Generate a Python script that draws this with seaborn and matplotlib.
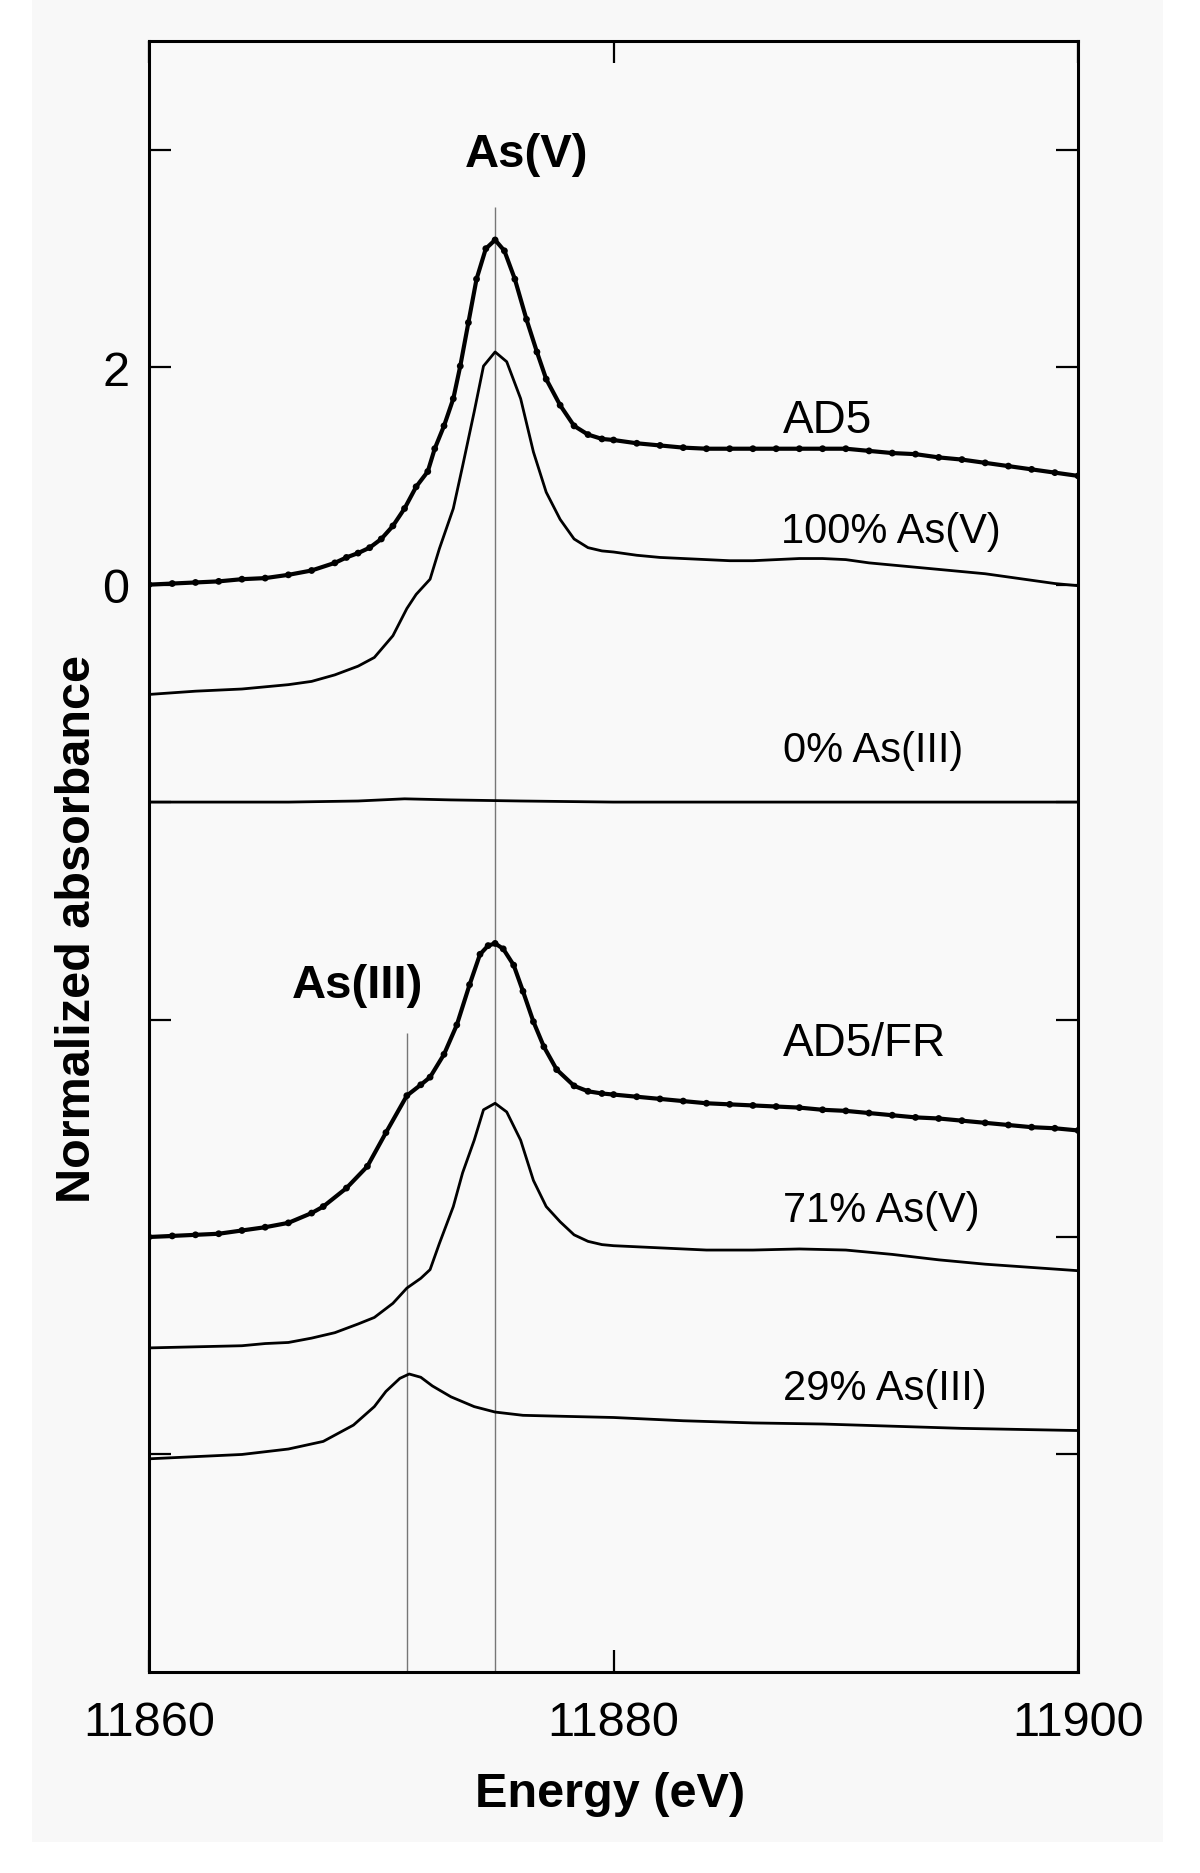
import numpy as np
import pandas as pd
import matplotlib
matplotlib.use("Agg")
import matplotlib.pyplot as plt
import seaborn as sns
from matplotlib.patches import Rectangle

# Energies (eV) and normalized absorbance (curves are vertically offset)
ad5_energy = [11860, 11861, 11862, 11863, 11864, 11865, 11866, 11867, 11868, 11868.5,
              11869, 11869.5, 11870, 11870.5, 11871, 11871.5, 11872, 11872.3, 11872.7, 11873.1,
              11873.4, 11873.75, 11874.1, 11874.5, 11874.9, 11875.3, 11875.75, 11876.25, 11876.7, 11877.1,
              11877.7, 11878.3, 11878.9, 11879.5, 11880, 11881, 11882, 11883, 11884, 11885,
              11886, 11887, 11888, 11889, 11890, 11891, 11892, 11893, 11894, 11895,
              11896, 11897, 11898, 11899, 11900]
ad5_abs = [0.00, 0.01, 0.02, 0.03, 0.05, 0.06, 0.09, 0.13, 0.20, 0.25,
           0.29, 0.34, 0.42, 0.54, 0.70, 0.90, 1.04, 1.25, 1.46, 1.71,
           2.01, 2.41, 2.81, 3.09, 3.17, 3.07, 2.81, 2.44, 2.14, 1.89,
           1.65, 1.46, 1.38, 1.34, 1.33, 1.30, 1.28, 1.26, 1.25, 1.25,
           1.25, 1.25, 1.25, 1.25, 1.25, 1.23, 1.21, 1.20, 1.17, 1.15,
           1.12, 1.09, 1.06, 1.03, 1.00]

asv100_energy = [11860, 11862, 11864, 11865, 11866, 11867, 11868, 11869, 11869.7, 11870.5,
                 11871.1, 11871.5, 11872.1, 11872.5, 11873.1, 11873.5, 11874.0, 11874.4, 11874.9, 11875.4,
                 11876.0, 11876.55, 11877.1, 11877.7, 11878.3, 11878.9, 11879.5, 11880, 11881, 11882,
                 11883, 11884, 11885, 11886, 11887, 11888, 11889, 11890, 11891, 11892,
                 11893, 11894, 11895, 11896, 11897, 11898, 11899, 11900]
asv100_abs = [-1.01, -0.98, -0.96, -0.94, -0.92, -0.89, -0.83, -0.75, -0.67, -0.47,
              -0.22, -0.09, 0.05, 0.33, 0.70, 1.09, 1.59, 2.01, 2.14, 2.05,
              1.71, 1.22, 0.85, 0.60, 0.42, 0.34, 0.31, 0.30, 0.27, 0.25,
              0.24, 0.23, 0.22, 0.22, 0.23, 0.24, 0.24, 0.23, 0.20, 0.18,
              0.16, 0.14, 0.12, 0.10, 0.07, 0.04, 0.01, -0.01]

asiii0_energy = [11860, 11866, 11869, 11871, 11873, 11876, 11880, 11890, 11900]
asiii0_abs = [-2.00, -2.00, -1.99, -1.97, -1.98, -1.99, -2.00, -2.00, -2.00]

fr_energy = [11860, 11861, 11862, 11863, 11864, 11865, 11866, 11867, 11867.5, 11868.5,
             11869.4, 11870.2, 11871.1, 11871.7, 11872.1, 11872.7, 11873.25, 11873.8, 11874.25, 11874.6,
             11874.9, 11875.25, 11875.7, 11876.1, 11876.55, 11877.0, 11877.55, 11878.3, 11878.9, 11879.5,
             11880, 11881, 11882, 11883, 11884, 11885, 11886, 11887, 11888, 11889,
             11890, 11891, 11892, 11893, 11894, 11895, 11896, 11897, 11898, 11899, 11900]
fr_abs = [-6.00, -5.99, -5.98, -5.97, -5.94, -5.91, -5.87, -5.78, -5.72, -5.55,
          -5.35, -5.04, -4.70, -4.60, -4.53, -4.32, -4.05, -3.68, -3.40, -3.32,
          -3.30, -3.35, -3.50, -3.74, -4.02, -4.25, -4.46, -4.61, -4.66, -4.68,
          -4.69, -4.71, -4.73, -4.75, -4.77, -4.78, -4.79, -4.80, -4.81, -4.83,
          -4.84, -4.86, -4.88, -4.90, -4.91, -4.93, -4.95, -4.97, -4.99, -5.00, -5.02]

asv71_energy = [11860, 11862, 11864, 11865, 11866, 11867, 11868, 11869, 11869.7, 11870.5,
                11871.1, 11871.7, 11872.1, 11872.5, 11873.1, 11873.5, 11874.0, 11874.4, 11874.9, 11875.4,
                11876.0, 11876.55, 11877.1, 11877.7, 11878.3, 11878.9, 11879.5, 11880, 11882, 11884,
                11886, 11888, 11890, 11892, 11894, 11896, 11898, 11900]
asv71_abs = [-7.02, -7.01, -7.00, -6.98, -6.97, -6.93, -6.88, -6.80, -6.74, -6.61,
             -6.47, -6.38, -6.30, -6.06, -5.72, -5.41, -5.11, -4.83, -4.77, -4.85,
             -5.11, -5.48, -5.72, -5.86, -5.98, -6.04, -6.07, -6.08, -6.10, -6.12,
             -6.12, -6.11, -6.12, -6.16, -6.21, -6.25, -6.28, -6.31]

asiii29_energy = [11860, 11862, 11864, 11866, 11867.5, 11868.8, 11869.7, 11870.2, 11870.8, 11871.2,
                  11871.7, 11872.2, 11873.0, 11874.0, 11874.9, 11876.1, 11878, 11880, 11883, 11886,
                  11889, 11892, 11895, 11900]
asiii29_abs = [-8.04, -8.02, -8.00, -7.95, -7.88, -7.73, -7.56, -7.42, -7.30, -7.26,
               -7.29, -7.37, -7.47, -7.56, -7.61, -7.64, -7.65, -7.66, -7.69, -7.71,
               -7.72, -7.74, -7.76, -7.78]

# edge positions marked by vertical lines: As(V), As(III)
edge_energy = [11874.9, 11871.1]
edge_top = [3.47, -4.12]

x_ticks = [11860, 11880, 11900]
y_ticks = [-8, -6, -4, -2, 0, 2, 4]
y_tick_labels = ["", "", "", "", "0", "2", ""]

sns.set_theme(style="ticks")
plt.rcParams["font.family"] = ["Liberation Sans", "DejaVu Sans"]
plt.rcParams.update({"text.color": "black", "axes.labelcolor": "black",
                     "xtick.color": "black", "ytick.color": "black"})

fig = plt.figure(figsize=(12, 18.74), dpi=100, facecolor="white")
fig.patches.append(Rectangle((0.0267, 0.0165), 0.9425, 0.9835, transform=fig.transFigure,
                             facecolor="#f8f8f8", edgecolor="none", zorder=-10))
ax = fig.add_axes([0.1242, 0.1073, 0.7742, 0.8703])
ax.set_zorder(1)
ax.set_facecolor("#f9f9f9")

# reference spectra (thin lines)
refs = pd.concat([
    pd.DataFrame({"energy": asv100_energy, "absorbance": asv100_abs, "curve": "100% As(V)"}),
    pd.DataFrame({"energy": asiii0_energy, "absorbance": asiii0_abs, "curve": "0% As(III)"}),
    pd.DataFrame({"energy": asv71_energy, "absorbance": asv71_abs, "curve": "71% As(V)"}),
    pd.DataFrame({"energy": asiii29_energy, "absorbance": asiii29_abs, "curve": "29% As(III)"}),
])
sns.lineplot(data=refs, x="energy", y="absorbance", units="curve", estimator=None,
             sort=False, color="black", linewidth=2.0, solid_joinstyle="round",
             ax=ax, legend=False)

# sample spectra: fit line plus data points
samples = pd.concat([
    pd.DataFrame({"energy": ad5_energy, "absorbance": ad5_abs, "curve": "AD5"}),
    pd.DataFrame({"energy": fr_energy, "absorbance": fr_abs, "curve": "AD5/FR"}),
])
sns.lineplot(data=samples, x="energy", y="absorbance", units="curve", estimator=None,
             sort=False, color="black", linewidth=3.0, solid_joinstyle="round",
             ax=ax, legend=False)
sns.scatterplot(data=samples, x="energy", y="absorbance", color="black", s=24,
                marker="o", edgecolor="none", ax=ax, legend=False, zorder=3)

ax.vlines(edge_energy, -10, edge_top, color="#777777", linewidth=1.0, zorder=1)

# labels
ax.text(11876.25, 3.96, "As(V)", ha="center", va="center", fontsize=34, fontweight="bold")
ax.text(11868.98, -3.68, "As(III)", ha="center", va="center", fontsize=34, fontweight="bold")
ax.text(11887.3, 1.40, "AD5", fontsize=33, va="baseline")
ax.text(11887.2, 0.39, "100% As(V)", fontsize=30, va="baseline")
ax.text(11887.3, -1.62, "0% As(III)", fontsize=30, va="baseline")
ax.text(11887.3, -4.33, "AD5/FR", fontsize=33, va="baseline")
ax.text(11887.3, -5.85, "71% As(V)", fontsize=30, va="baseline")
ax.text(11887.3, -7.49, "29% As(III)", fontsize=30, va="baseline")

ax.set_xlim(11860, 11900)
ax.set_ylim(-10, 5)
ax.set_xticks(x_ticks)
ax.set_yticks(y_ticks)
ax.set_yticklabels(y_tick_labels)
ax.tick_params(direction="in", length=16, width=1.6, top=True, right=True,
               labelsize=35, color="black")
ax.tick_params(axis="x", pad=20)
ax.tick_params(axis="y", pad=14)
for s in ax.spines.values():
    s.set_linewidth(2.2)
    s.set_color("black")

ax.set_xlabel("Energy (eV)", fontsize=35, fontweight="bold")
ax.set_ylabel("Normalized absorbance", fontsize=35, fontweight="bold")
ax.xaxis.set_label_coords(0.496, -0.0607)
ax.yaxis.set_label_coords(-0.053, 0.456)

fig.savefig("out.png", dpi=100, facecolor="white")
